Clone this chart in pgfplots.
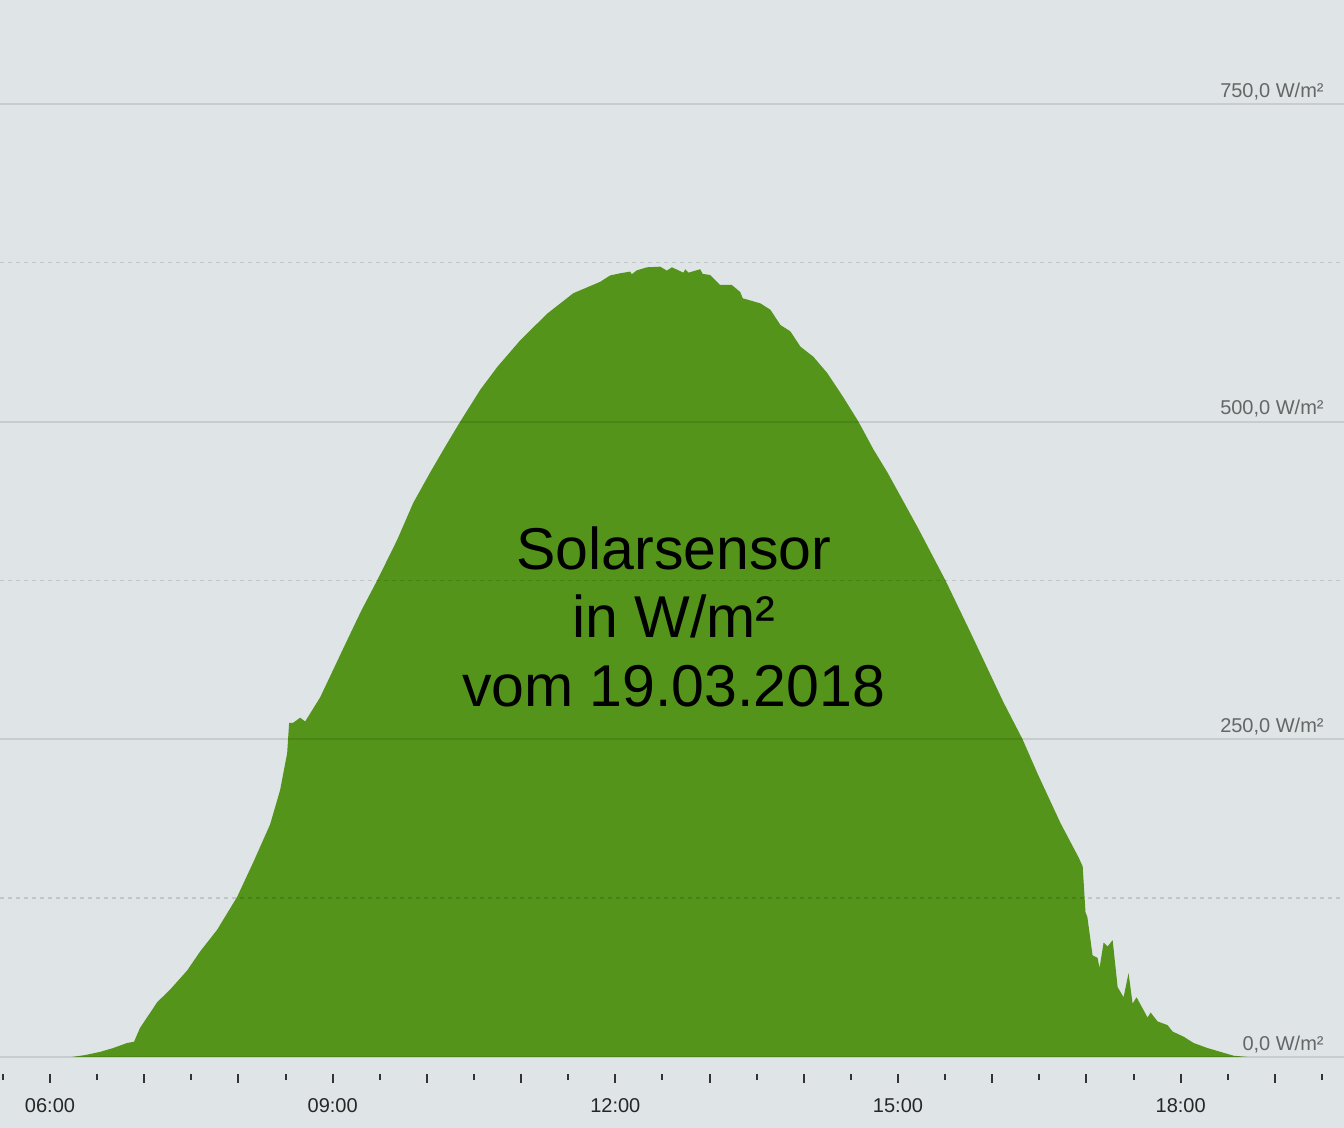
\documentclass[border=0pt]{standalone}
\usepackage{pgfplots}
\pgfplotsset{compat=1.18}
\usepackage{fontspec}
\setmainfont{Liberation Sans}
\definecolor{bg}{RGB}{223,228,231}
\definecolor{solar}{RGB}{84,148,26}
\begin{document}
\begin{tikzpicture}
\fill[bg] (0pt,-27pt) rectangle (672pt,537pt);
\begin{axis}[
  at={(0pt,0pt)}, anchor=south west,
  scale only axis, width=672pt, height=537pt,
  xmin=5.4693, xmax=19.7336, ymin=-13.38, ymax=831.76,
  axis line style={draw=none},
  axis on top,
  xtick={6,...,19},
  xticklabels={06:00,,,09:00,,,12:00,,,15:00,,,18:00,},
  minor xtick={5.5,6.5,...,19.5},
  xtick pos=bottom,
  tick align=outside,
  major tick length=4.5pt, minor tick length=3pt,
  xtick style={draw=black!80, line width=1pt},
  xticklabel style={font=\fontsize{10}{12}\selectfont, text=black!85, anchor=north, inner sep=0pt, yshift=-7.35pt},
  ytick={0,250,500,750},
  yticklabels={{0,0 W/m²},{250,0 W/m²},{500,0 W/m²},{750,0 W/m²}},
  yticklabel pos=right,
  ytick style={draw=none},
  yticklabel style={font=\fontsize{10}{12}\selectfont, text=black!60, anchor=base east, inner sep=0pt, xshift=-14.5pt, yshift=3.35pt},
  ymajorgrids,
  major grid style={black, draw opacity=0.1, line width=1pt},
  extra y ticks={125,375,625},
  extra y tick labels={},
  extra y tick style={ymajorgrids=true, tick style={draw=none}, major grid style={black, draw opacity=0.13, line width=0.75pt, dash pattern=on 2pt off 2pt}},
]
\addplot[draw=none, fill=solar] coordinates {
(6.23,0) (6.372,1.5) (6.531,4) (6.669,7) (6.818,11) (6.892,12) (6.956,23)
(7.083,37) (7.136,43) (7.274,53) (7.455,68) (7.593,83) (7.773,100) (7.986,126)
(8.156,153) (8.336,183) (8.442,210) (8.517,239) (8.538,263) (8.580,263)
(8.655,267) (8.708,264) (8.867,283) (9.154,328) (9.309,352) (9.472,375) (9.685,407)
(9.855,436) (10.035,460) (10.200,481) (10.354,500) (10.566,525) (10.747,543) (10.991,564)
(11.278,585) (11.554,601) (11.839,610) (11.945,615) (12.051,616.7) (12.157,618)
(12.175,616) (12.228,619) (12.334,621.4) (12.476,621.9) (12.547,618.8) (12.600,621.4)
(12.723,617.2) (12.741,619.9) (12.777,617.2) (12.900,619.9) (12.928,616.2) (13.006,615.4)
(13.112,607.5) (13.236,607.5) (13.325,602) (13.353,597) (13.401,596) (13.540,593)
(13.646,588) (13.752,576) (13.858,571)
(13.964,559) (14.102,551) (14.251,538) (14.421,519) (14.580,500) (14.740,478)
(14.888,460) (15.207,417) (15.504,375) (15.770,334) (15.980,301) (16.120,279) (16.322,250)
(16.481,223) (16.725,184) (16.917,157) (16.960,150) (16.990,114) (17.010,110)
(17.065,80) (17.118,78) (17.139,70) (17.182,90) (17.225,87) (17.278,92)
(17.331,55) (17.394,47) (17.447,66) (17.490,42) (17.532,47) (17.649,31)
(17.681,35) (17.755,28) (17.862,25) (17.915,20) (18.031,16) (18.138,11)
(18.286,7) (18.424,4) (18.562,1) (18.711,0)
} -- cycle;
\node[font=\fontsize{29.5}{34.25}\selectfont, align=center, anchor=center, text=black, inner sep=0pt] at (axis cs:12.62,346.6) {Solarsensor\\in W/m²\\vom 19.03.2018};
\end{axis}
\pgfresetboundingbox
\path (0pt,-27pt) rectangle (672pt,537pt);
\end{tikzpicture}
\end{document}
